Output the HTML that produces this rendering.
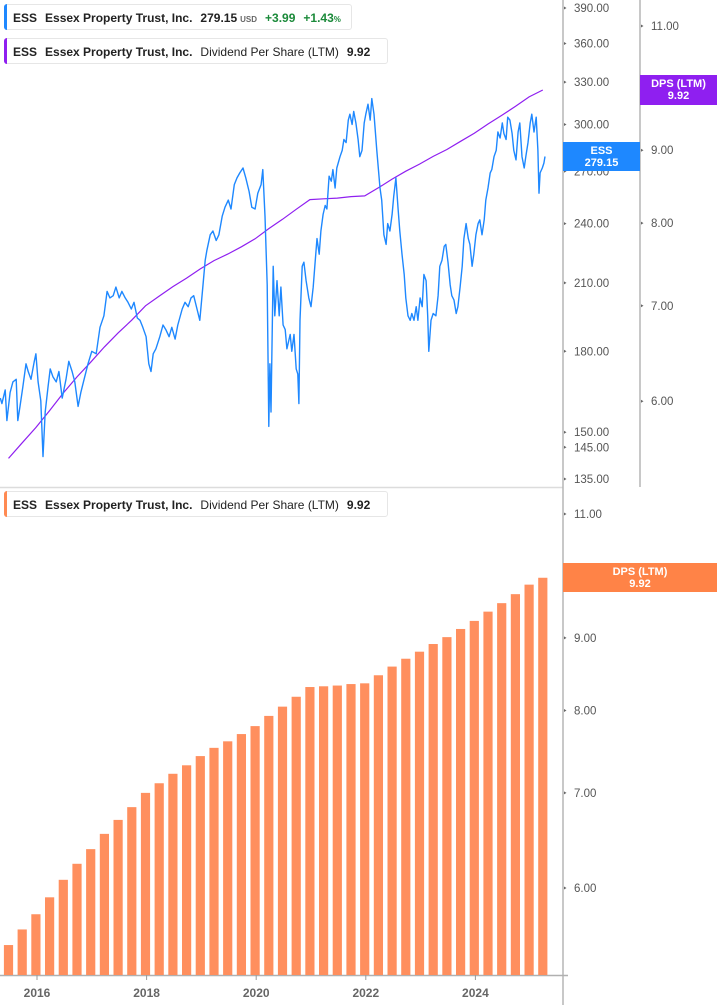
<!DOCTYPE html>
<html><head><meta charset="utf-8"><style>
html,body{margin:0;padding:0;background:#fff;}
body{width:717px;height:1005px;overflow:hidden;position:relative;font-family:"Liberation Sans",sans-serif;}
svg{position:absolute;left:0;top:0;}
.leg{position:absolute;left:4px;height:26px;border:1px solid #e6e6e6;border-radius:3px;background:#fff;font-size:12px;font-weight:bold;color:#222;line-height:26px;white-space:nowrap;box-sizing:border-box;padding-left:8px;}
.leg::before{content:"";position:absolute;left:-1px;top:-1px;bottom:-1px;width:3px;border-radius:3px 0 0 3px;background:var(--c);}
.leg span{margin-right:8px;}
.n{font-weight:normal;}
.g{color:#1b8a3a;}
.box{position:absolute;color:#fff;font-size:11px;font-weight:bold;text-align:center;line-height:12px;padding-top:3px;box-sizing:border-box;}
</style></head><body>
<svg id="chart" width="717" height="1005"></svg>

<div class="leg" style="--c:#1e88ff;top:4px;width:348px;"><span>ESS</span><span>Essex Property Trust, Inc.</span><span>279.15<span style="font-size:8px;color:#666;margin:0 0 0 3px">USD</span></span><span class="g">+3.99</span><span class="g">+1.43<span style="font-size:8px">%</span></span></div>
<div class="leg" style="--c:#8f1ff0;top:38px;width:384px;"><span>ESS</span><span>Essex Property Trust, Inc.</span><span class="n">Dividend Per Share (LTM)</span><span>9.92</span></div>
<div class="leg" style="--c:#ff8a52;top:491px;width:384px;"><span>ESS</span><span>Essex Property Trust, Inc.</span><span class="n">Dividend Per Share (LTM)</span><span>9.92</span></div>

<div class="box" style="left:563px;top:142px;width:77px;height:29px;background:#1e88ff;">ESS<br>279.15</div>
<div class="box" style="left:640px;top:75px;width:77px;height:30px;background:#8f1ff0;">DPS (LTM)<br>9.92</div>

<script>
const dpsValues=[5.47,5.61,5.75,5.91,6.08,6.24,6.39,6.55,6.70,6.84,7.00,7.11,7.22,7.32,7.43,7.53,7.61,7.70,7.80,7.93,8.05,8.18,8.31,8.32,8.33,8.35,8.36,8.47,8.59,8.70,8.80,8.91,9.01,9.13,9.25,9.39,9.52,9.66,9.81,9.92];
const dpsStart=2015.48;
const priceDates=[2015.33,2015.36,2015.42,2015.45,2015.51,2015.56,2015.62,2015.65,2015.69,2015.74,2015.80,2015.84,2015.89,2015.95,2015.98,2016.02,2016.07,2016.11,2016.15,2016.20,2016.24,2016.29,2016.35,2016.40,2016.46,2016.53,2016.58,2016.64,2016.69,2016.75,2016.80,2016.86,2016.93,2017.00,2017.08,2017.15,2017.22,2017.28,2017.33,2017.39,2017.44,2017.50,2017.55,2017.61,2017.66,2017.72,2017.77,2017.83,2017.88,2017.93,2017.99,2018.04,2018.08,2018.12,2018.17,2018.24,2018.30,2018.35,2018.41,2018.46,2018.52,2018.57,2018.65,2018.70,2018.76,2018.81,2018.86,2018.92,2018.97,2019.03,2019.07,2019.10,2019.16,2019.21,2019.27,2019.32,2019.38,2019.43,2019.49,2019.54,2019.60,2019.65,2019.70,2019.76,2019.81,2019.87,2019.92,2019.98,2020.03,2020.09,2020.12,2020.16,2020.20,2020.22,2020.23,2020.25,2020.27,2020.31,2020.34,2020.38,2020.42,2020.45,2020.49,2020.53,2020.56,2020.62,2020.65,2020.69,2020.73,2020.76,2020.78,2020.80,2020.84,2020.87,2020.91,2020.96,2021.00,2021.04,2021.07,2021.11,2021.15,2021.18,2021.22,2021.26,2021.29,2021.33,2021.37,2021.40,2021.44,2021.47,2021.53,2021.57,2021.60,2021.64,2021.68,2021.71,2021.75,2021.78,2021.82,2021.86,2021.89,2021.93,2021.97,2022.00,2022.04,2022.08,2022.11,2022.15,2022.20,2022.26,2022.29,2022.33,2022.37,2022.40,2022.44,2022.48,2022.51,2022.55,2022.59,2022.62,2022.66,2022.70,2022.73,2022.77,2022.81,2022.84,2022.88,2022.92,2022.95,2022.99,2023.03,2023.06,2023.10,2023.13,2023.15,2023.19,2023.23,2023.28,2023.32,2023.35,2023.39,2023.43,2023.46,2023.50,2023.54,2023.57,2023.61,2023.65,2023.68,2023.72,2023.76,2023.79,2023.83,2023.87,2023.90,2023.94,2023.97,2024.01,2024.05,2024.08,2024.12,2024.16,2024.19,2024.23,2024.27,2024.30,2024.34,2024.38,2024.41,2024.45,2024.49,2024.52,2024.56,2024.59,2024.63,2024.67,2024.70,2024.74,2024.78,2024.81,2024.85,2024.89,2024.92,2024.96,2025.00,2025.03,2025.07,2025.11,2025.14,2025.16,2025.18,2025.22,2025.25,2025.27];
const priceValues=[162,160,165,154,164,168,169,154,159,166,175,172,169,176,179,168,161,142,157,166,173,170,168,172,162,169,176,172,168,159,164,169,175,180,179,190,195,206,203,204,208,203,206,203,201,198,201,194,193,190,186,175,172,179,181,186,191,189,186,190,185,191,198,201,199,203,204,198,193,209,221,226,234,236,231,234,244,249,253,248,262,266,269,272,266,258,249,248,257,262,271,244,209,168,152,175,157,218,195,211,195,208,191,189,181,187,180,187,173,171,160,193,218,220,211,203,199,208,218,232,224,236,245,250,248,267,264,271,260,272,279,283,290,288,303,307,300,309,301,290,279,283,301,307,314,303,318,307,283,260,253,234,229,240,236,245,255,266,248,236,224,214,203,195,193,196,193,199,193,203,199,214,211,195,180,193,196,195,204,218,221,228,229,220,209,204,202,196,199,208,218,232,240,232,229,218,224,234,240,242,234,242,253,260,269,271,279,283,295,291,301,294,290,305,303,294,283,277,295,301,279,272,279,288,301,307,295,305,283,257,269,272,275,279.15];
const priceTicks=[390,360,330,300,270,240,210,180,150,145,135];
const dpsTopTicks=[11,9,8,7,6];
const dpsBottomTicks=[11,10,9,8,7,6];
const yearTicks=[2016,2018,2020,2022,2024];

const NS="http://www.w3.org/2000/svg";
const svg=document.getElementById('chart');
function mk(tag,attrs,parent){const e=document.createElementNS(NS,tag);for(const k in attrs)e.setAttribute(k,attrs[k]);(parent||svg).appendChild(e);return e;}
const xOf=t=>37+(t-2016)*54.8;
const priceY=p=>8+(Math.log(390)-Math.log(p))*444;
const dpsTopY=v=>26+(Math.log(11)-Math.log(v))*619;
const dpsBotY=v=>514+(Math.log(11)-Math.log(v))*617;
const base=975;

// separators / axes
let e;
e=mk('line',{x1:0,y1:487.5,x2:563,y2:487.5,stroke:'#dcdcdc','stroke-width':1.5});


e=mk('line',{x1:563,y1:0,x2:563,y2:1005,stroke:'#b5b5b5','stroke-width':1.5});


e=mk('line',{x1:640,y1:0,x2:640,y2:487,stroke:'#b5b5b5','stroke-width':1.5});


e=mk('line',{x1:0,y1:base+0.5,x2:568,y2:base+0.5,stroke:'#b0b0b0','stroke-width':1.5});



function yLabel(x,y,txt,name){
  const t=mk('path',{d:`M${x} ${y-1.5}L${x+2.5} ${y}L${x} ${y+1.5}Z`,fill:'#666'});
  
  
  const l=mk('text',{x:x+10,y:y+4,'font-size':'11.5',fill:'#555','font-family':'Liberation Sans, sans-serif'});
  l.textContent=txt;
  
  
}
priceTicks.forEach(p=>yLabel(564,priceY(p),p.toFixed(2),'price-tick-label'));
dpsTopTicks.forEach(v=>yLabel(641,dpsTopY(v),v.toFixed(2),'dps-top-tick-label'));
dpsBottomTicks.forEach(v=>yLabel(564,dpsBotY(v),v.toFixed(2),'dps-bottom-tick-label'));
yearTicks.forEach(yr=>{
  const x=xOf(yr);
  const t=mk('line',{x1:x,y1:base,x2:x,y2:base+5,stroke:'#999','stroke-width':1});
  
  
  const l=mk('text',{x:x,y:997,'font-size':'12','font-weight':'bold',fill:'#666','text-anchor':'middle','font-family':'Liberation Sans, sans-serif'});
  l.textContent=yr;
  
  
});

// bars
dpsValues.forEach((v,i)=>{
  const x=xOf(dpsStart+i*0.25);
  const y=dpsBotY(v);
  const b=mk('rect',{x:x-4.6,y:y,width:9.2,height:base-y,fill:'#ff8f5e'});
  
  
});

// DPS line top
let d='';
dpsValues.forEach((v,i)=>{d+=(i?'L':'M')+xOf(dpsStart+i*0.25).toFixed(1)+' '+dpsTopY(v).toFixed(1);});
e=mk('path',{d:d,fill:'none',stroke:'#8f1ff0','stroke-width':1.2});



// price line
d='';
priceValues.forEach((p,i)=>{d+=(i?'L':'M')+xOf(priceDates[i]).toFixed(1)+' '+priceY(p).toFixed(1);});
e=mk('path',{d:d,fill:'none',stroke:'#1e88ff','stroke-width':1.4,'stroke-linejoin':'round'});


</script>
<div class="box" style="left:563px;top:563px;width:154px;height:29px;background:#ff8347;">DPS (LTM)<br>9.92</div>
</body></html>
